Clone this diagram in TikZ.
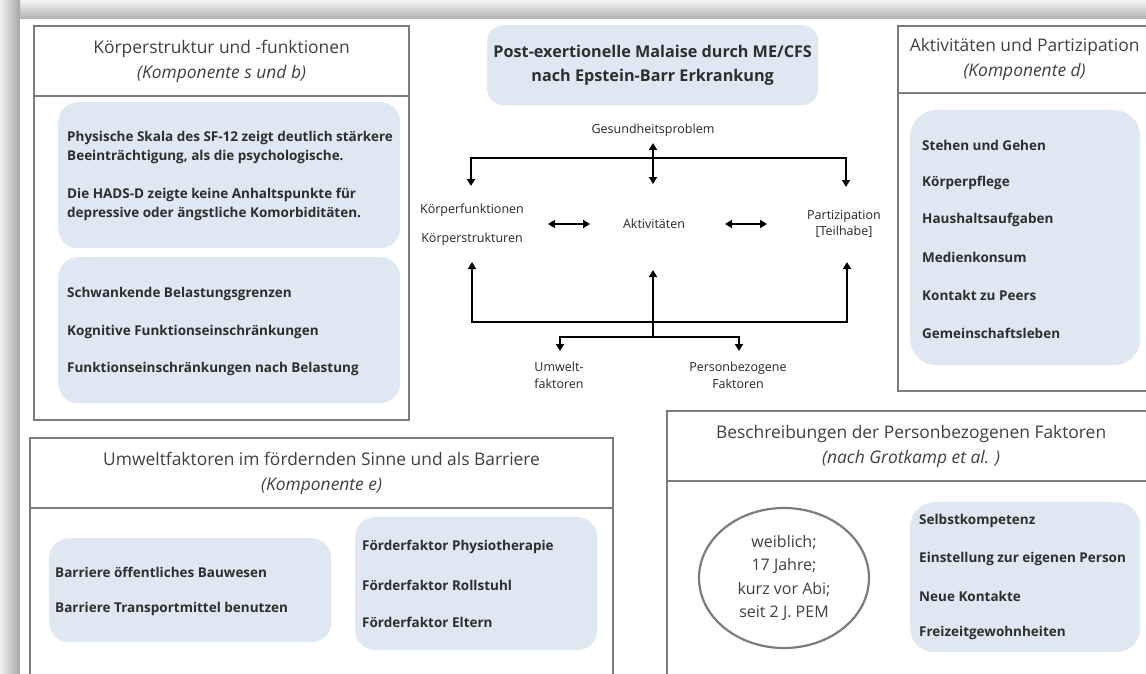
\documentclass[tikz,border=0pt]{standalone}
\usepackage{fontspec}
\setmainfont{Open Sans}
\usetikzlibrary{arrows.meta,shapes.geometric}
\definecolor{boxgray}{HTML}{7C7C7C}
\definecolor{paleblue}{HTML}{DFE7F2}
\definecolor{txt}{HTML}{2E2E2E}
\definecolor{hdr}{HTML}{404040}
\tikzset{
  frame/.style={draw=boxgray, line width=2.2pt, anchor=north west, inner sep=0pt},
  hbox/.style={frame, align=center, text=hdr, font=\fontsize{17.4}{25}\selectfont},
  panel/.style={fill=paleblue, rounded corners=20pt, anchor=north west, inner sep=0pt},
  item/.style={anchor=west, inner sep=0pt, text=txt, font=\fontsize{13.5}{19}\selectfont\bfseries},
  lab/.style={inner sep=0pt, align=center, text=black!85, font=\fontsize{12.5}{16.5}\selectfont},
  arr/.style={line width=2pt, line join=miter, -{Triangle[length=7pt,width=8pt]}},
  dbl/.style={line width=2pt, line join=miter, {Triangle[length=7pt,width=8pt]}-{Triangle[length=7pt,width=8pt]}},
}
\begin{document}
\begin{tikzpicture}[x=1pt,y=-1pt]
\useasboundingbox (0,0) rectangle (1146,674);
\clip (0,0) rectangle (1146,674);
% page shadow
\shade[top color=gray!8, bottom color=gray!62] (0,0) rectangle (1146,19);
\shade[left color=gray!12, right color=gray!70] (0,0) rectangle (20,674);
\fill[white] (20,19) rectangle (1146,674);

% ---------- top-left box ----------
\node[hbox, minimum width=375pt, minimum height=70pt] (kh) at (33,25)
  {Körperstruktur und -funktionen\\\textit{(Komponente s und b)}};
\node[frame, minimum width=375pt, minimum height=324pt] (kb) at (33,95) {};
\node[panel, minimum width=342pt, minimum height=146pt] (kp1) at (58,102) {};
\node[panel, minimum width=342pt, minimum height=146pt] (kp2) at (58,257) {};
\node[item] (k1) at (67,138) {Physische Skala des SF-12 zeigt deutlich stärkere};
\node[item] (k2) at (67,157) {Beeinträchtigung, als die psychologische.};
\node[item] (k3) at (67,195) {Die HADS-D zeigte keine Anhaltspunkte für};
\node[item] (k4) at (67,214) {depressive oder ängstliche Komorbiditäten.};
\node[item] (k5) at (67,294) {Schwankende Belastungsgrenzen};
\node[item] (k6) at (67,332) {Kognitive Funktionseinschränkungen};
\node[item] (k7) at (67,369) {Funktionseinschränkungen nach Belastung};

% ---------- title ----------
\node[panel, rounded corners=16pt, minimum width=331pt, minimum height=80pt, align=center,
  text=txt, font=\fontsize{16.2}{24}\selectfont\bfseries] (title) at (487,25)
  {Post-exertionelle Malaise durch ME/CFS\\nach Epstein-Barr Erkrankung};

% ---------- ICF diagram ----------
\node[lab] (ges) at (653,130) {Gesundheitsproblem};
\node[lab] (kf) at (472,210) {Körperfunktionen};
\node[lab] (ks) at (472,239) {Körperstrukturen};
\node[lab] (akt) at (654,224) {Aktivitäten};
\node[lab] (par) at (844,224) {Partizipation\\{[Teilhabe]}};
\node[lab] (umw) at (559,375.5) {Umwelt-\\faktoren};
\node[lab] (pers) at (738,375.5) {Personbezogene\\Faktoren};

\coordinate (gtop) at (653,143);
\coordinate (gbot) at (653,184);
\coordinate (tl) at (471,158);
\coordinate (tr) at (846,158);
\coordinate (kfin) at (471,186);
\coordinate (parin) at (846,187);
\coordinate (a1l) at (548,224);
\coordinate (a1r) at (590,224);
\coordinate (a2l) at (725,224);
\coordinate (a2r) at (767,224);
\coordinate (kfup) at (472,262);
\coordinate (bl) at (472,322);
\coordinate (br) at (847,322);
\coordinate (parup) at (847,262);
\coordinate (bj) at (653,337);
\coordinate (aktup) at (653,270);
\coordinate (ul) at (560,337);
\coordinate (ur) at (739,337);
\coordinate (umwin) at (560,351);
\coordinate (persin) at (739,351);

\draw[dbl] (gtop) -- (gbot);
\draw[dbl] (kfin) -- (tl) -- (tr) -- (parin);
\draw[dbl] (a1l) -- (a1r);
\draw[dbl] (a2l) -- (a2r);
\draw[dbl] (kfup) -- (bl) -- (br) -- (parup);
\draw[arr] (bj) -- (aktup);
\draw[dbl] (umwin) -- (ul) -- (ur) -- (persin);

% ---------- right box ----------
\node[hbox, minimum width=253pt, minimum height=67pt] (ah) at (897,25)
  {Aktivitäten und Partizipation\\\textit{(Komponente d)}};
\node[frame, minimum width=253pt, minimum height=298pt] (ab) at (897,92) {};
\node[panel, rounded corners=26pt, minimum width=230pt, minimum height=255pt] (ap) at (910,110) {};
\node[item] (a1) at (922,145) {Stehen und Gehen};
\node[item] (a2) at (922,183) {Körperpflege};
\node[item] (a3) at (922,220) {Haushaltsaufgaben};
\node[item] (a4) at (922,257) {Medienkonsum};
\node[item] (a5) at (922,295) {Kontakt zu Peers};
\node[item] (a6) at (922,333) {Gemeinschaftsleben};

% ---------- bottom-left box ----------
\node[hbox, minimum width=583pt, minimum height=70pt] (uh) at (29,437)
  {Umweltfaktoren im fördernden Sinne und als Barriere\\\textit{(Komponente e)}};
\node[frame, minimum width=583pt, minimum height=180pt] (ub) at (29,507) {};
\node[panel, minimum width=282pt, minimum height=104pt] (up1) at (49,538) {};
\node[panel, minimum width=242pt, minimum height=133pt] (up2) at (355,517) {};
\node[item] (u1) at (55,572) {Barriere öffentliches Bauwesen};
\node[item] (u2) at (55,609) {Barriere Transportmittel benutzen};
\node[item] (u3) at (362,547) {Förderfaktor Physiotherapie};
\node[item] (u4) at (362,585) {Förderfaktor Rollstuhl};
\node[item] (u5) at (362,622) {Förderfaktor Eltern};

% ---------- bottom-right box ----------
\node[hbox, minimum width=488pt, minimum height=70pt] (ph) at (666,410)
  {Beschreibungen der Personbezogenen Faktoren\\\textit{(nach Grotkamp et al. )}};
\node[frame, minimum width=488pt, minimum height=200pt] (pb) at (666,480) {};
\node[draw=boxgray, line width=2.2pt, ellipse, minimum width=170pt, minimum height=140pt,
  inner sep=0pt, align=center, text=hdr, font=\fontsize{16}{23.3}\selectfont] (ell) at (784,578)
  {weiblich;\\17 Jahre;\\kurz vor Abi;\\seit 2 J. PEM};
\node[panel, rounded corners=24pt, minimum width=230pt, minimum height=150pt] (pp) at (910,502) {};
\node[item] (p1) at (919,521) {Selbstkompetenz};
\node[item] (p2) at (919,559) {Einstellung zur eigenen Person};
\node[item] (p3) at (919,596) {Neue Kontakte};
\node[item] (p4) at (919,633) {Freizeitgewohnheiten};
\end{tikzpicture}
\end{document}
